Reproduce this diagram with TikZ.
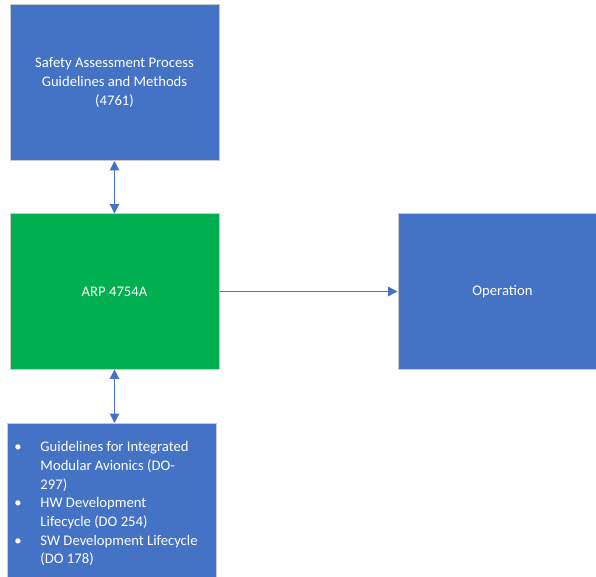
\documentclass[tikz,border=0pt]{standalone}
\usepackage{fontspec}
\setmainfont{Carlito}
\usetikzlibrary{arrows.meta}
\definecolor{accblue}{HTML}{4472C4}
\definecolor{accgreen}{HTML}{00B050}
\definecolor{boxedge}{HTML}{C9C9C9}
\begin{document}
\begin{tikzpicture}[x=0.75pt, y=-0.75pt,
    stdbox/.style={draw=boxedge, line width=0.75pt, rectangle, text=white, inner sep=0pt, minimum width=156.75pt, minimum height=116.25pt, align=center, font=\fontsize{11}{14}\selectfont},
    bluebox/.style={stdbox, fill=accblue},
    greenbox/.style={stdbox, fill=accgreen},
    link/.style={draw=accblue, line width=0.9pt},
    tip/.style={-{Triangle[length=7pt, width=7pt]}},
    twotip/.style={{Triangle[length=7pt, width=7pt]}-{Triangle[length=7pt, width=7pt]}}]
    \useasboundingbox (0,0) rectangle (596,577);
    % Objects
    \node[bluebox, minimum height=117pt] (safety) at (114.5,82.5) {Safety Assessment Process\\Guidelines and Methods\\(4761)};
    \node[greenbox] (arp) at (114.5,291.5) {ARP 4754A};
    \node[bluebox] (operation) at (502.5,291.5) {Operation};
    \node[bluebox, anchor=north west] (guides) at (7,423) {\parbox[t][116.25pt][t]{155.25pt}{\raggedright\fontsize{11}{14}\selectfont
        \vspace*{11.5pt}%
        \begin{tabular}{@{}p{24pt}@{}l@{}}
        \hspace*{4.5pt}\textbullet & Guidelines for Integrated\\
         & Modular Avionics (DO-\\
         & 297)\\
        \hspace*{4.5pt}\textbullet & HW Development\\
         & Lifecycle (DO 254)\\
        \hspace*{4.5pt}\textbullet & SW Development Lifecycle\\
         & (DO 178)
        \end{tabular}}};

    % Links
    \draw[link, twotip] (safety.south) -- (arp.north);
    \draw[link, twotip] (arp.south) -- (arp.south |- guides.north);
    \draw[link, tip] (arp.east) -- (operation.west);
\end{tikzpicture}
\end{document}
